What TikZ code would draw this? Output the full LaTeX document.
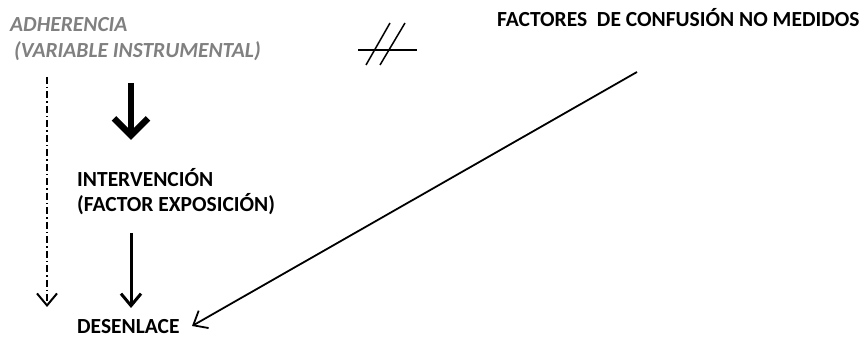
\documentclass[tikz,border=0pt]{standalone}
\usepackage{fontspec}
\setmainfont{Carlito}
\usetikzlibrary{arrows.meta}
\definecolor{adhGray}{RGB}{128,128,128}

\begin{document}
\begin{tikzpicture}[x=1pt,y=-1pt,
    lbl/.style={anchor=base west, inner sep=0pt, align=left, font=\bfseries\fontsize{21.5}{25.5}\selectfont},
    bigarrow/.style={line width=6.5pt, -{Straight Barb[length=17pt,width=34pt]}},
    arrowline/.style={line width=2.4pt, -{Straight Barb[length=12pt,width=20pt]}}]
  \useasboundingbox (0,0) rectangle (860,339);
  % textos
  \node[lbl, text=adhGray, font=\bfseries\itshape\fontsize{21.5}{26}\selectfont] (adh) at (10,58) {ADHERENCIA\\\hspace{4pt}(VARIABLE INSTRUMENTAL)};
  \node[lbl] (factores) at (497,27) {FACTORES\ \ DE CONFUSIÓN NO MEDIDOS};
  \node[lbl] (interv) at (77,212) {INTERVENCIÓN\\(FACTOR EXPOSICIÓN)};
  \node[lbl] (desenl) at (77,333.5) {DESENLACE};
  % extremos de las flechas
  \coordinate (thickTop) at (131,83);
  \coordinate (thickTip) at (131,140);
  \coordinate (thinTop) at (131,233);
  \coordinate (thinTip) at (131,308);
  \coordinate (dashTop) at (47,77);
  \coordinate (dashTip) at (47,307);
  \coordinate (diagTop) at (637,72);
  \coordinate (diagTip) at (192,326);
  \draw[bigarrow] (thickTop) -- (thickTip);
  \draw[arrowline, line width=3pt] (thinTop) -- (thinTip);
  \draw[arrowline, line width=2pt, dash pattern=on 7pt off 3pt on 1.5pt off 3pt] (dashTop) -- (dashTip);
  \draw[arrowline, line width=1.8pt] (diagTop) -- (diagTip);
  % simbolo //
  \draw[line width=1.5pt] (358,50) -- (417,50);
  \draw[line width=1.5pt] (366,65) -- (390,23);
  \draw[line width=1.5pt] (380,65) -- (405,23);
\end{tikzpicture}
\end{document}
